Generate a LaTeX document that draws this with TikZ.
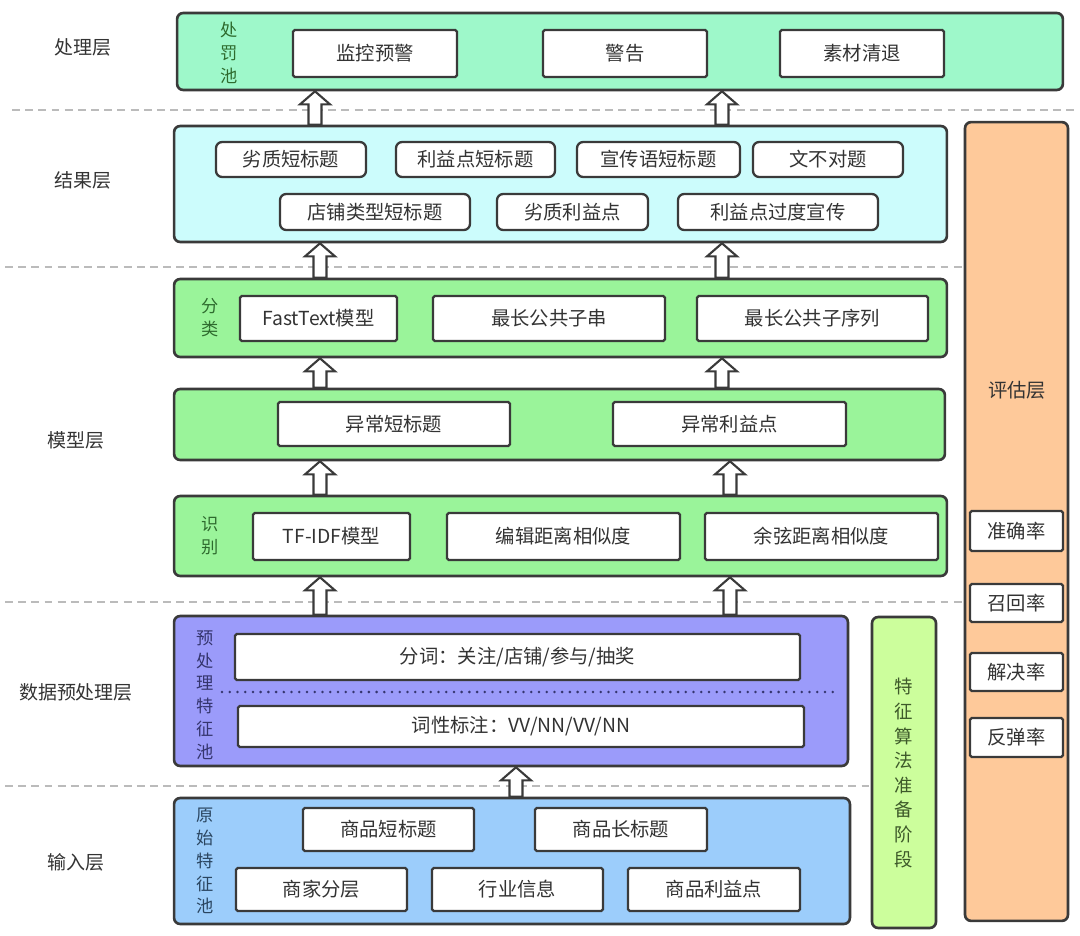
\documentclass[tikz,border=0pt]{standalone}
\usepackage{fontspec}
\setmainfont{Noto Sans CJK SC}
\usetikzlibrary{calc}

\definecolor{edge}{HTML}{3A3A3A}
\definecolor{txt}{HTML}{333333}
\definecolor{sepgray}{HTML}{BBBBBB}
\definecolor{mintpool}{HTML}{9EF8CA}
\definecolor{cyanpool}{HTML}{CCFCFC}
\definecolor{greenpool}{HTML}{9AF49A}
\definecolor{purplepool}{HTML}{9B9BFA}
\definecolor{bluepool}{HTML}{9CCDFB}
\definecolor{limepool}{HTML}{CCFE9C}
\definecolor{peachpool}{HTML}{FEC99A}
\definecolor{darkgreen}{HTML}{2E6B2E}
\definecolor{darkpurple}{HTML}{35356E}
\definecolor{darkblue}{HTML}{2A4560}
\definecolor{darklime}{HTML}{3E5A2A}

\begin{document}
\begin{tikzpicture}[x=0.02cm, y=-0.02cm,
    layer/.style={draw=edge, line width=1.5pt, rounded corners=3.5pt, inner sep=0pt},
    cell/.style={draw=edge, line width=1.3pt, fill=white, rounded corners=1pt, inner sep=0pt,
      text=txt, font=\fontsize{11}{13}\selectfont},
    softcell/.style={cell, rounded corners=3.5pt},
    tag/.style={text=txt, font=\fontsize{10.8}{13}\selectfont},
    vtag/.style={align=center, inner sep=0pt, font=\fontsize{9.8}{13}\selectfont},
    sep/.style={draw=sepgray, line width=0.9pt, dash pattern=on 4.5pt off 3pt},
    dotline/.style={draw=darkpurple, line width=1.6pt, line cap=round, dash pattern=on 0pt off 4.4pt},
    blockup/.style={draw=edge, line width=1.2pt, fill=white, line join=miter,
      to path={let \p1=(\tikztostart), \p2=(\tikztotarget) in
        (\x1-3.7pt,\y1) -- (\x1-3.7pt,\y2-7.4pt) -- (\x1-8.5pt,\y2-7.4pt) -- (\x1,\y2)
        -- (\x1+8.5pt,\y2-7.4pt) -- (\x1+3.7pt,\y2-7.4pt) -- (\x1+3.7pt,\y1) -- cycle}}
  ]
  \useasboundingbox (0,0) rectangle (1080,936);

  % Linee di separazione
  \draw[sep] (12,110) -- (1078,110);
  \draw[sep] (5,267) -- (965,267);
  \draw[sep] (5,602) -- (965,602);
  \draw[sep] (5,786) -- (872,786);

  % Etichette dei livelli
  \node[tag] (tdeal) at (83,47) {处理层};
  \node[tag] (tres) at (83,180) {结果层};
  \node[tag] (tmod) at (76,440) {模型层};
  \node[tag] (tpre) at (76,692) {数据预处理层};
  \node[tag] (tin) at (76,862) {输入层};

  % Livello di elaborazione
  \node[layer, fill=mintpool, minimum width=17.72cm, minimum height=1.54cm] (deal) at (620,51.5) {};
  \node[vtag, text=darkgreen] (tpun) at (229,53) {处\\罚\\池};
  \node[cell, minimum width=3.28cm, minimum height=0.94cm] (mon) at (375,53.5) {监控预警};
  \node[cell, minimum width=3.28cm, minimum height=0.94cm] (warn) at (625,53.5) {警告};
  \node[cell, minimum width=3.28cm, minimum height=0.94cm] (off) at (862,53.5) {素材清退};

  % Livello dei risultati
  \node[layer, fill=cyanpool, minimum width=15.46cm, minimum height=2.32cm] (res) at (560.5,184) {};
  \node[softcell, minimum width=3.00cm, minimum height=0.70cm] (r1) at (291,159.5) {劣质短标题};
  \node[softcell, minimum width=3.18cm, minimum height=0.70cm] (r2) at (475.5,159.5) {利益点短标题};
  \node[softcell, minimum width=3.26cm, minimum height=0.70cm] (r3) at (658.5,159.5) {宣传语短标题};
  \node[softcell, minimum width=3.00cm, minimum height=0.70cm] (r4) at (828,159.5) {文不对题};
  \node[softcell, minimum width=3.80cm, minimum height=0.72cm] (r5) at (375,212) {店铺类型短标题};
  \node[softcell, minimum width=3.02cm, minimum height=0.72cm] (r6) at (572.5,212) {劣质利益点};
  \node[softcell, minimum width=4.00cm, minimum height=0.72cm] (r7) at (778,212) {利益点过度宣传};

  % Livello del modello: classificazione
  \node[layer, fill=greenpool, minimum width=15.46cm, minimum height=1.56cm] (cls) at (560.5,318) {};
  \node[vtag, text=darkgreen] (tcls) at (210,318) {分\\类};
  \node[cell, minimum width=3.14cm, minimum height=0.90cm] (ft) at (318.5,318.5) {FastText模型};
  \node[cell, minimum width=4.64cm, minimum height=0.90cm] (lcs) at (549,318.5) {最长公共子串};
  \node[cell, minimum width=4.62cm, minimum height=0.90cm] (lcq) at (812.5,318.5) {最长公共子序列};

  % Livello del modello: anomalie
  \node[layer, fill=greenpool, minimum width=15.42cm, minimum height=1.42cm] (ab) at (559.5,424.5) {};
  \node[cell, minimum width=4.64cm, minimum height=0.88cm] (abt) at (394,424) {异常短标题};
  \node[cell, minimum width=4.66cm, minimum height=0.88cm] (abp) at (729.5,424) {异常利益点};

  % Livello del modello: riconoscimento
  \node[layer, fill=greenpool, minimum width=15.46cm, minimum height=1.60cm] (idf) at (560.5,536) {};
  \node[vtag, text=darkgreen] (tidf) at (210,536) {识\\别};
  \node[cell, minimum width=3.14cm, minimum height=0.94cm] (tfidf) at (331.5,536.5) {TF-IDF模型};
  \node[cell, minimum width=4.66cm, minimum height=0.94cm] (edit) at (563.5,536.5) {编辑距离相似度};
  \node[cell, minimum width=4.66cm, minimum height=0.94cm] (cosd) at (821.5,536.5) {余弦距离相似度};

  % Pre-elaborazione
  \node[layer, fill=purplepool, minimum width=13.48cm, minimum height=3.00cm] (pre) at (511,691) {};
  \node[vtag, text=darkpurple] (tprep) at (205,695) {预\\处\\理\\特\\征\\池};
  \node[cell, minimum width=11.30cm, minimum height=0.92cm] (seg) at (517.5,657) {分词：关注/店铺/参与/抽奖};
  \node[cell, minimum width=11.32cm, minimum height=0.82cm] (pos) at (521,726.5) {词性标注：VV/NN/VV/NN};
  \draw[dotline] (222,692) -- (838,692);

  % Ingresso
  \node[layer, fill=bluepool, minimum width=13.52cm, minimum height=2.52cm] (inp) at (512,861) {};
  \node[vtag, text=darkblue] (traw) at (205,861) {原\\始\\特\\征\\池};
  \node[cell, minimum width=3.42cm, minimum height=0.86cm] (st) at (388.5,829.5) {商品短标题};
  \node[cell, minimum width=3.44cm, minimum height=0.86cm] (lt) at (621,829.5) {商品长标题};
  \node[cell, minimum width=3.42cm, minimum height=0.86cm] (mer) at (321.5,889.5) {商家分层};
  \node[cell, minimum width=3.42cm, minimum height=0.86cm] (ind) at (517.5,889.5) {行业信息};
  \node[cell, minimum width=3.44cm, minimum height=0.86cm] (ben) at (714,889.5) {商品利益点};

  % Fase di preparazione
  \node[layer, fill=limepool, minimum width=1.28cm, minimum height=6.22cm] (prep) at (904,772.5) {};
  \node[vtag, text=darklime, font=\fontsize{10.5}{14}\selectfont] (tprepa) at (904,773) {特\\征\\算\\法\\准\\备\\阶\\段};

  % Valutazione
  \node[layer, fill=peachpool, minimum width=2.06cm, minimum height=15.98cm] (ev) at (1016.5,521.5) {};
  \node[tag, font=\fontsize{11}{13}\selectfont] (tev) at (1017,390) {评估层};
  \node[cell, minimum width=1.86cm, minimum height=0.80cm] (acc) at (1016.5,531) {准确率};
  \node[cell, minimum width=1.86cm, minimum height=0.76cm] (rec) at (1016.5,603) {召回率};
  \node[cell, minimum width=1.86cm, minimum height=0.76cm] (sol) at (1016.5,672) {解决率};
  \node[cell, minimum width=1.86cm, minimum height=0.78cm] (reb) at (1016.5,737.5) {反弹率};

  % Frecce di flusso
  \coordinate (xa) at (315,0);
  \coordinate (xb) at (722,0);
  \coordinate (xc) at (320,0);
  \coordinate (xd) at (730,0);
  \coordinate (xe) at (516,0);
  \draw[blockup] (res.north -| xa) to (deal.south -| xa);
  \draw[blockup] (res.north -| xb) to (deal.south -| xb);
  \draw[blockup] (cls.north -| xc) to (res.south -| xc);
  \draw[blockup] (cls.north -| xb) to (res.south -| xb);
  \draw[blockup] (ab.north -| xc) to (cls.south -| xc);
  \draw[blockup] (ab.north -| xb) to (cls.south -| xb);
  \draw[blockup] (idf.north -| xc) to (ab.south -| xc);
  \draw[blockup] (idf.north -| xd) to (ab.south -| xd);
  \draw[blockup] (pre.north -| xc) to (idf.south -| xc);
  \draw[blockup] (pre.north -| xd) to (idf.south -| xd);
  \draw[blockup] (inp.north -| xe) to (pre.south -| xe);
\end{tikzpicture}
\end{document}
